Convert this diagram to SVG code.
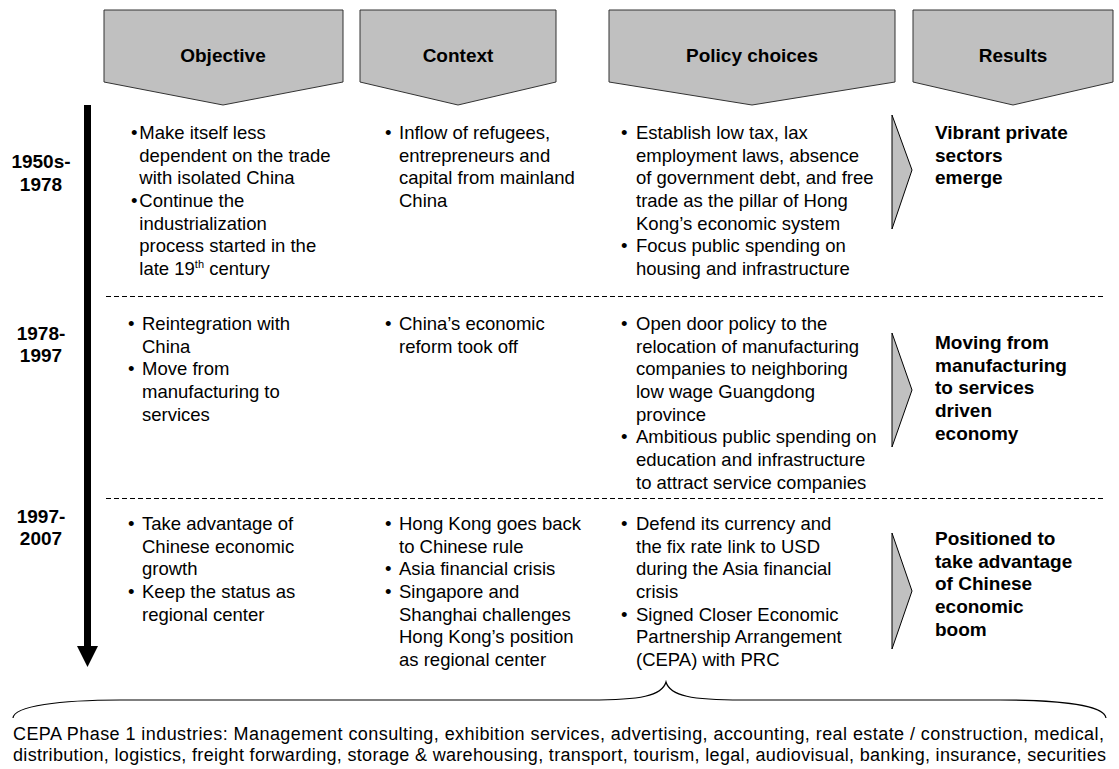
<svg xmlns="http://www.w3.org/2000/svg" width="1119" height="769" viewBox="0 0 1119 769">
<style>
.hdr{fill:#c0c0c0;stroke:#333;stroke-width:1}
.chev{fill:#c0c0c0;stroke:#000;stroke-width:1}
.b{font-family:"Liberation Sans",Arial,sans-serif;font-weight:bold;font-size:19px;fill:#000}
.t{font-family:"Liberation Sans",Arial,sans-serif;font-size:18.5px;fill:#000}
.c{font-family:"Liberation Sans",Arial,sans-serif;font-size:18px;fill:#000}
.mid{text-anchor:middle}
.dash{stroke:#000;stroke-width:1;stroke-dasharray:5 3;fill:none}
</style>
<rect width="1119" height="769" fill="#fff"/>

<g id="header-objective">
<polygon class="hdr" points="104,10 343,10 343,82 223,105 104,82"/>
<text class="b mid" x="223" y="62">Objective</text>
</g>
<g id="header-context">
<polygon class="hdr" points="360,10 556,10 556,82 458,105 360,82"/>
<text class="b mid" x="458" y="62">Context</text>
</g>
<g id="header-policy">
<polygon class="hdr" points="609,10 895,10 895,82 752,105 609,82"/>
<text class="b mid" x="752" y="62">Policy choices</text>
</g>
<g id="header-results">
<polygon class="hdr" points="913,10 1113,10 1113,82 1013,105 913,82"/>
<text class="b mid" x="1013" y="62">Results</text>
</g>

<g id="separators">
<line class="dash" x1="106" y1="296.5" x2="1105" y2="296.5"/>
<line class="dash" x1="106" y1="498.5" x2="1105" y2="498.5"/>
</g>

<g id="years">
<text class="b mid" x="41" y="168">1950s-</text>
<text class="b mid" x="41" y="191">1978</text>
<text class="b mid" x="41" y="340">1978-</text>
<text class="b mid" x="41" y="362">1997</text>
<text class="b mid" x="41" y="523">1997-</text>
<text class="b mid" x="41" y="545">2007</text>
</g>

<g id="row1-objective">
<text class="t" x="131" y="139">•</text>
<text class="t" x="131" y="207">•</text>
<text class="t"><tspan x="139.3" y="139">Make itself less</tspan><tspan x="139.3" dy="22.67">dependent on the trade</tspan><tspan x="139.3" dy="22.67">with isolated China</tspan><tspan x="139.3" dy="22.67">Continue the</tspan><tspan x="139.3" dy="22.67">industrialization</tspan><tspan x="139.3" dy="22.67">process started in the</tspan><tspan x="139.3" dy="22.67">late 19</tspan><tspan font-size="11" dy="-7">th</tspan><tspan dy="7"> century</tspan></text>
</g>
<g id="row1-context">
<text class="t" x="385" y="139">•</text>
<text class="t"><tspan x="399" y="139">Inflow of refugees,</tspan><tspan x="399" dy="22.67">entrepreneurs and</tspan><tspan x="399" dy="22.67">capital from mainland</tspan><tspan x="399" dy="22.67">China</tspan></text>
</g>
<g id="row1-policy">
<text class="t" x="621" y="139">•</text>
<text class="t" x="621" y="252.3">•</text>
<text class="t"><tspan x="636" y="139">Establish low tax, lax</tspan><tspan x="636" dy="22.67">employment laws, absence</tspan><tspan x="636" dy="22.67">of government debt, and free</tspan><tspan x="636" dy="22.67">trade as the pillar of Hong</tspan><tspan x="636" dy="22.67">Kong’s economic system</tspan><tspan x="636" dy="22.67">Focus public spending on</tspan><tspan x="636" dy="22.67">housing and infrastructure</tspan></text>
</g>
<g id="row1-results">
<text class="b"><tspan x="935" y="139">Vibrant private</tspan><tspan x="935" dy="22.67">sectors</tspan><tspan x="935" dy="22.67">emerge</tspan></text>
</g>

<g id="row2-objective">
<text class="t" x="128" y="330">•</text>
<text class="t" x="128" y="375.3">•</text>
<text class="t"><tspan x="142" y="330">Reintegration with</tspan><tspan x="142" dy="22.67">China</tspan><tspan x="142" dy="22.67">Move from</tspan><tspan x="142" dy="22.67">manufacturing to</tspan><tspan x="142" dy="22.67">services</tspan></text>
</g>
<g id="row2-context">
<text class="t" x="385" y="330">•</text>
<text class="t"><tspan x="399" y="330">China’s economic</tspan><tspan x="399" dy="22.67">reform took off</tspan></text>
</g>
<g id="row2-policy">
<text class="t" x="621" y="330">•</text>
<text class="t" x="621" y="443.3">•</text>
<text class="t"><tspan x="636" y="330">Open door policy to the</tspan><tspan x="636" dy="22.67">relocation of manufacturing</tspan><tspan x="636" dy="22.67">companies to neighboring</tspan><tspan x="636" dy="22.67">low wage Guangdong</tspan><tspan x="636" dy="22.67">province</tspan><tspan x="636" dy="22.67">Ambitious public spending on</tspan><tspan x="636" dy="22.67">education and infrastructure</tspan><tspan x="636" dy="22.67">to attract service companies</tspan></text>
</g>
<g id="row2-results">
<text class="b"><tspan x="935" y="349">Moving from</tspan><tspan x="935" dy="22.67">manufacturing</tspan><tspan x="935" dy="22.67">to services</tspan><tspan x="935" dy="22.67">driven</tspan><tspan x="935" dy="22.67">economy</tspan></text>
</g>

<g id="row3-objective">
<text class="t" x="128" y="530">•</text>
<text class="t" x="128" y="598">•</text>
<text class="t"><tspan x="142" y="530">Take advantage of</tspan><tspan x="142" dy="22.67">Chinese economic</tspan><tspan x="142" dy="22.67">growth</tspan><tspan x="142" dy="22.67">Keep the status as</tspan><tspan x="142" dy="22.67">regional center</tspan></text>
</g>
<g id="row3-context">
<text class="t" x="385" y="530">•</text>
<text class="t" x="385" y="575.3">•</text>
<text class="t" x="385" y="598">•</text>
<text class="t"><tspan x="399" y="530">Hong Kong goes back</tspan><tspan x="399" dy="22.67">to Chinese rule</tspan><tspan x="399" dy="22.67">Asia financial crisis</tspan><tspan x="399" dy="22.67">Singapore and</tspan><tspan x="399" dy="22.67">Shanghai challenges</tspan><tspan x="399" dy="22.67">Hong Kong’s position</tspan><tspan x="399" dy="22.67">as regional center</tspan></text>
</g>
<g id="row3-policy">
<text class="t" x="621" y="530">•</text>
<text class="t" x="621" y="620.7">•</text>
<text class="t"><tspan x="636" y="530">Defend its currency and</tspan><tspan x="636" dy="22.67">the fix rate link to USD</tspan><tspan x="636" dy="22.67">during the Asia financial</tspan><tspan x="636" dy="22.67">crisis</tspan><tspan x="636" dy="22.67">Signed Closer Economic</tspan><tspan x="636" dy="22.67">Partnership Arrangement</tspan><tspan x="636" dy="22.67">(CEPA) with PRC</tspan></text>
</g>
<g id="row3-results">
<text class="b"><tspan x="935" y="545">Positioned to</tspan><tspan x="935" dy="22.67">take advantage</tspan><tspan x="935" dy="22.67">of Chinese</tspan><tspan x="935" dy="22.67">economic</tspan><tspan x="935" dy="22.67">boom</tspan></text>
</g>

<g id="cepa-note">
<text class="c" x="13" y="740" textLength="1091" lengthAdjust="spacing">CEPA Phase 1 industries: Management consulting, exhibition services, advertising, accounting, real estate / construction, medical,</text>
<text class="c" x="13" y="761" textLength="1093" lengthAdjust="spacing">distribution, logistics, freight forwarding, storage &amp; warehousing, transport, tourism, legal, audiovisual, banking, insurance, securities</text>
</g>

<g id="connectors">
<rect x="84" y="105" width="7" height="542" fill="#000"/>
<polygon points="77,646 98,646 87.5,667" fill="#000"/>
<polygon class="chev" points="892,115 912,170 892,229"/>
<polygon class="chev" points="892,333 912,390 892,447"/>
<polygon class="chev" points="892,533 912,591 892,649"/>
<path d="M13,718 C14,706 60,700 120,700 L590,700 C640,700 662,696 666,682 C670,696 692,700 742,700 L1000,700 C1064,700 1104,706 1106,718" fill="none" stroke="#000" stroke-width="1.2"/>
</g>
</svg>
